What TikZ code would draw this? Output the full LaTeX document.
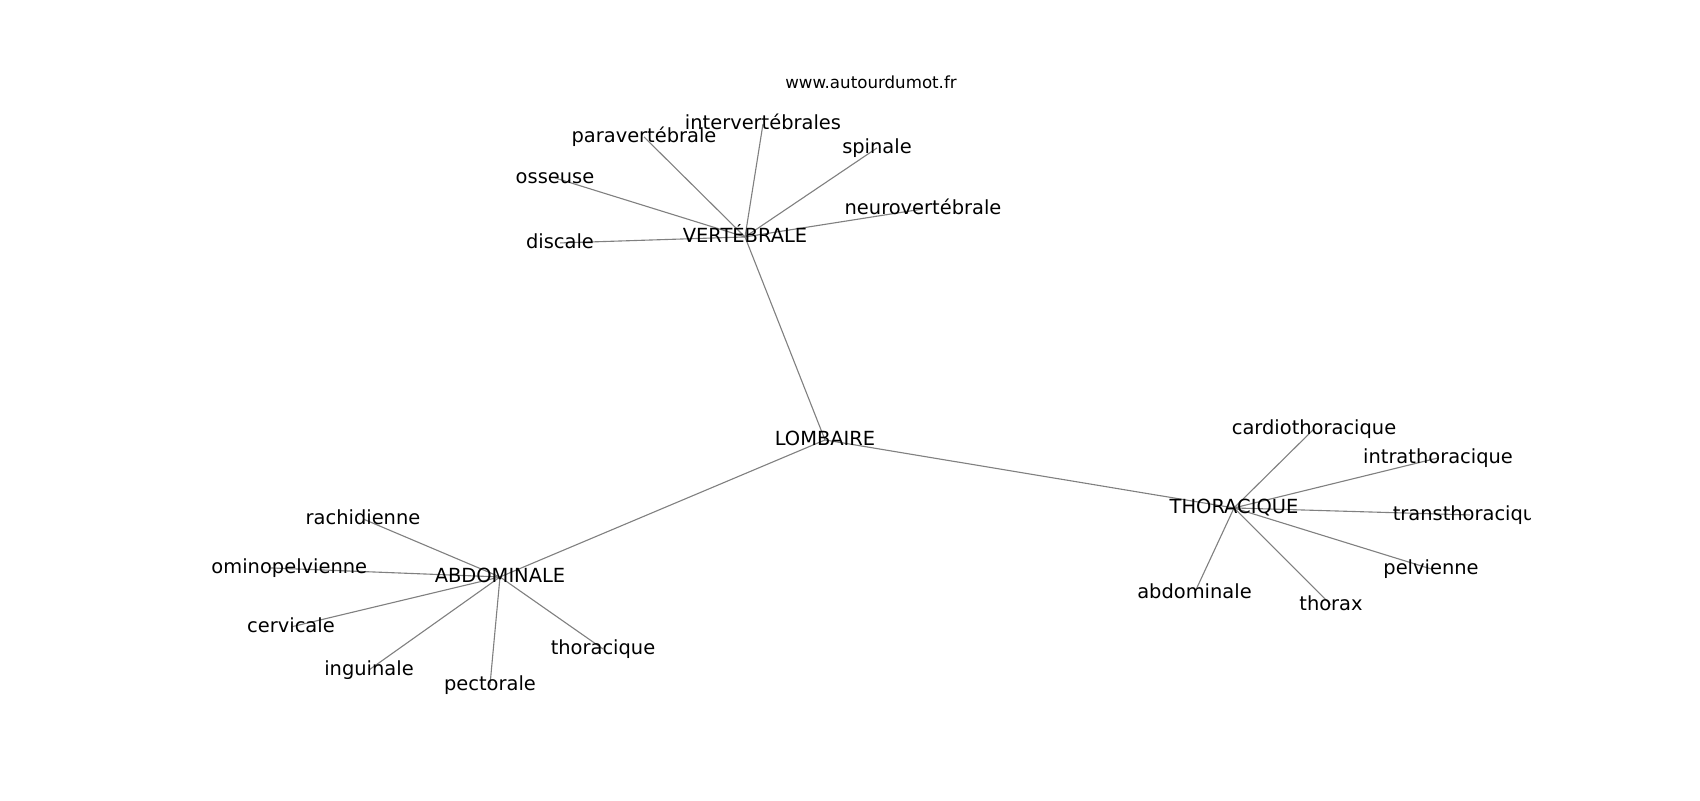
\documentclass[tikz,border=0pt]{standalone}
\usepackage{fontspec}
\setmainfont{DejaVu Sans}
\usetikzlibrary{backgrounds}
\tikzset{
  lbl/.style={font=\fontsize{14}{16}\selectfont, inner sep=0pt, text height=10.64pt, text depth=2.9pt, anchor=center, text=black, yshift=-1.4pt},
  ttl/.style={font=\fontsize{12}{14}\selectfont, inner sep=0pt, text height=9.1pt, text depth=2.5pt, anchor=center, text=black, yshift=-1pt},
  edge/.style={draw=black!50, line width=0.8pt}
}
\begin{document}
\begin{tikzpicture}[x=0.72pt,y=-0.72pt]
\useasboundingbox (0,0) rectangle (1700,800);
\node[ttl] (title) at (871,83) {www.autourdumot.fr};
\begin{scope}
\clip (212.5,96) rectangle (1530,712);
% hubs
\node[lbl] (lom) at (825,438) {LOMBAIRE};
\node[lbl] (ver) at (745,235) {VERTÉBRALE};
\node[lbl] (tho) at (1234,506) {THORACIQUE};
\node[lbl] (abd) at (500,575) {ABDOMINALE};
% vertebrale leaves
\node[lbl] (v1) at (763,122) {intervertébrales};
\node[lbl] (v2) at (644,135) {paravertébrale};
\node[lbl] (v3) at (555,176) {osseuse};
\node[lbl] (v4) at (877,146) {spinale};
\node[lbl] (v5) at (923,207) {neurovertébrale};
\node[lbl] (v6) at (560,241) {discale};
% thoracique leaves
\node[lbl] (t1) at (1314,427) {cardiothoracique};
\node[lbl] (t2) at (1438,456) {intrathoracique};
\node[lbl] (t3) at (1470,513) {transthoracique};
\node[lbl] (t4) at (1431,567) {pelvienne};
\node[lbl] (t5) at (1331,603) {thorax};
\node[lbl] (t6) at (1194.5,591) {abdominale};
% abdominale leaves
\node[lbl] (a1) at (363,517) {rachidienne};
\node[lbl] (a2) at (271,566) {abdominopelvienne};
\node[lbl] (a3) at (291,625) {cervicale};
\node[lbl] (a4) at (369,668) {inguinale};
\node[lbl] (a5) at (490,683) {pectorale};
\node[lbl] (a6) at (603,647) {thoracique};
\end{scope}
\begin{pgfonlayer}{background}
\draw[edge] (lom.center) -- (ver.center);
\draw[edge] (lom.center) -- (tho.center);
\draw[edge] (lom.center) -- (abd.center);
\foreach \n in {v1,v2,v3,v4,v5,v6} \draw[edge] (ver.center) -- (\n.center);
\foreach \n in {t1,t2,t3,t4,t5,t6} \draw[edge] (tho.center) -- (\n.center);
\foreach \n in {a1,a2,a3,a4,a5,a6} \draw[edge] (abd.center) -- (\n.center);
\end{pgfonlayer}
\end{tikzpicture}
\end{document}
